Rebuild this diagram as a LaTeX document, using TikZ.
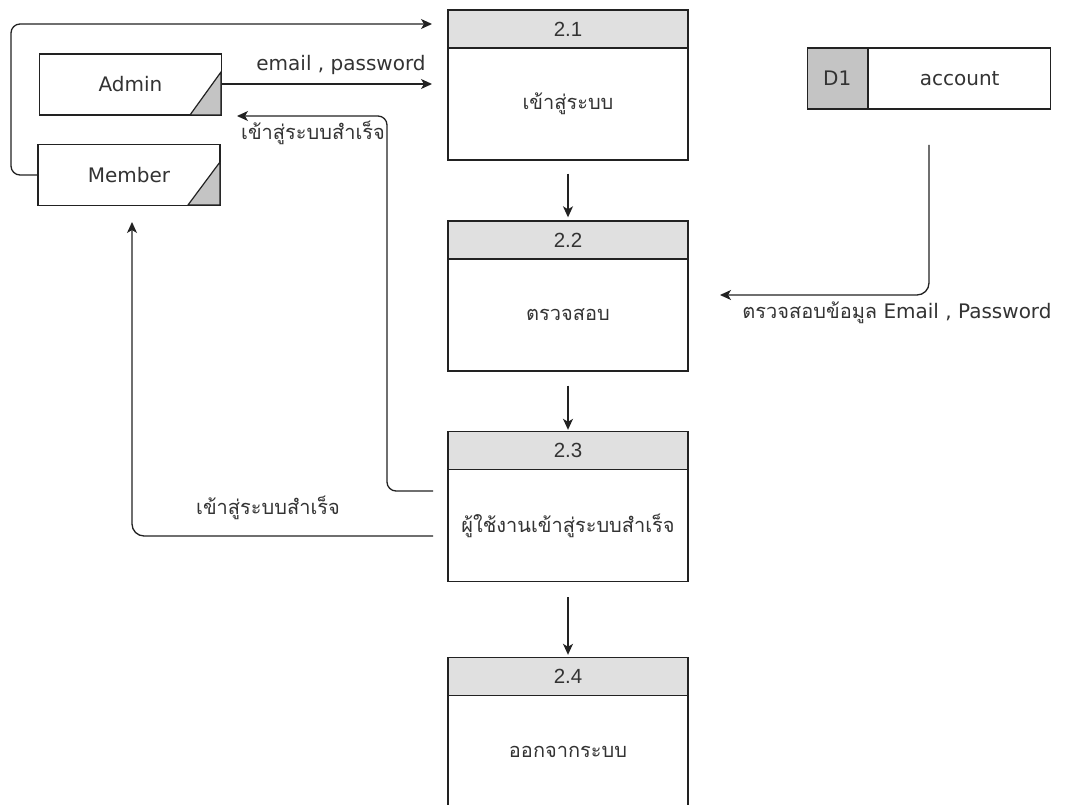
\documentclass[tikz,border=0pt]{standalone}
\usepackage{fontspec}
\setmainfont{DejaVu Sans}
\newfontfamily\thai[Script=Thai]{Loma}
\newfontfamily\num{Liberation Sans}
\usetikzlibrary{arrows.meta,calc}
\definecolor{txt}{HTML}{333333}
\definecolor{ln}{HTML}{222222}
\definecolor{hdr}{HTML}{E0E0E0}
\definecolor{tri}{HTML}{C4C4C4}
\begin{document}
\begin{tikzpicture}[x=1pt,y=-1pt,
  every node/.style={text=txt,font=\fontsize{20}{24}\selectfont},
  hdrbox/.style={draw=ln,line width=1.4pt,fill=hdr,minimum width=240pt,minimum height=38pt,inner sep=0pt,font=\num\fontsize{20.5}{24}\selectfont},
  bodybox/.style={draw=ln,line width=1.4pt,fill=white,minimum width=240pt,minimum height=112pt,inner sep=0pt,font=\thai\fontsize{20}{24}\selectfont},
  entbox/.style={draw=ln,line width=1.4pt,fill=white,minimum width=182pt,minimum height=61pt,inner sep=0pt},
  flow/.style={draw=ln,line width=1.3pt,-{Stealth[length=11pt,width=10pt,inset=3pt]}},
  lbl/.style={inner sep=0pt,fill=none}]
\useasboundingbox (0,0) rectangle (1066,805);
\clip (0,0) rectangle (1066,805);
\fill[white] (0,0) rectangle (1066,805);

% processes
\node[hdrbox] (h21) at (568,29) {2.1};
\node[bodybox] (b21) at (568,104) {เข้าสู่ระบบ};
\node[hdrbox] (h22) at (568,240) {2.2};
\node[bodybox] (b22) at (568,315) {ตรวจสอบ};
\node[hdrbox] (h23) at (568,450.5) {2.3};
\node[bodybox] (b23) at (568,525.5) {ผู้ใช้งานเข้าสู่ระบบสำเร็จ};
\node[hdrbox] (h24) at (568,676.5) {2.4};
\node[bodybox] (b24) at (568,751.5) {ออกจากระบบ};

% external entities
\node[entbox] (adm) at (130.5,84.5) {Admin};
\fill[tri,draw=ln,line width=1.2pt] (190,115) -- (221,72) -- (221,115) -- cycle;
\node[entbox] (mem) at (129,175) {Member};
\fill[tri,draw=ln,line width=1.2pt] (188,205) -- (220,162) -- (220,205) -- cycle;

% data store
\node[draw=ln,line width=1.4pt,fill=tri,minimum width=60pt,minimum height=61pt,inner sep=0pt,anchor=east] (d1) at (868,78.5) {D1};
\node[draw=ln,line width=1.4pt,fill=white,minimum width=182pt,minimum height=61pt,inner sep=0pt,anchor=west] (acc) at (868,78.5) {account};

% connector end points
\coordinate (e1) at (432,24);
\coordinate (e2) at (432,84);
\coordinate (e3) at (237,116);
\coordinate (s3) at (433,491);
\coordinate (e4) at (132,222);
\coordinate (s4) at (433,536);
\coordinate (s5) at (929,145);
\coordinate (e5) at (720,295);

\draw[flow,rounded corners=9pt] (mem.west) -- (11,175) -- (11,24) -- (e1);
\draw[flow] (adm.east |- e2) -- (e2);
\node[lbl] (l2) at (341,65) {email , password};
\draw[flow,rounded corners=9pt] (s3) -- (387,491) -- (387,116) -- (e3);
\node[lbl,font=\thai\fontsize{20}{24}\selectfont] (l3) at (313,133) {เข้าสู่ระบบสำเร็จ};
\draw[flow,rounded corners=12pt] (s4) -- (132,536) -- (e4);
\node[lbl,font=\thai\fontsize{20}{24}\selectfont] (l4) at (268,508) {เข้าสู่ระบบสำเร็จ};
\draw[flow,rounded corners=12pt] (s5) -- (929,295) -- (e5);
\node[lbl] (l5) at (897,313) {{\thai ตรวจสอบข้อมูล} Email , Password};

\draw[flow] ($(b21.south)+(0,13)$) -- ($(h22.north)+(0,-3)$);
\draw[flow] ($(b22.south)+(0,14)$) -- ($(h23.north)+(0,-1)$);
\draw[flow] ($(b23.south)+(0,15)$) -- ($(h24.north)+(0,-2)$);
\end{tikzpicture}
\end{document}
